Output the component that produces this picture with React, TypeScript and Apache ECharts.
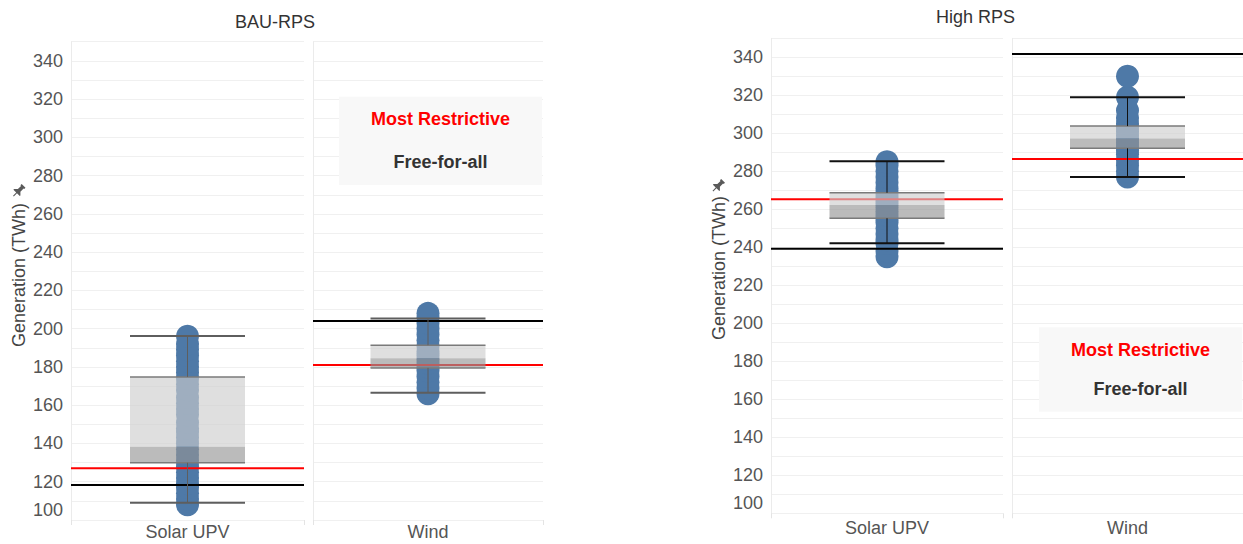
import React, { useEffect, useRef } from "react";
import * as echarts from "echarts";

const panelTitles = ["BAU-RPS", "High RPS"];
const categories = ["Solar UPV", "Wind"];
const legendLabels = ["Most Restrictive", "Free-for-all"];
const yAxisName = "Generation (TWh)";

// individual scenario results (dots)
const bauSolarDots = [108, 111, 114, 117, 119, 122, 125, 128, 131, 134, 137, 140, 143, 146, 148, 151, 155, 158, 161, 164, 168, 171, 174, 177, 180, 183, 186, 189, 192, 196];
const bauWindDots = [166, 169, 172, 175, 178, 180, 182, 184, 186, 188, 191, 194, 197, 200, 203, 206, 208];
const highSolarDots = [235, 238, 242, 244, 247, 250, 253, 255, 257, 259, 261, 263, 265, 267, 269, 271, 274, 277, 280, 283, 285];
const highWindDots = [277, 280, 283, 286, 289, 291, 293, 295, 297, 299, 301, 303, 305, 308, 312, 319, 330];

// box stats: [lower whisker, q1, median, q3, upper whisker]
const bauSolarBox = [109, 129.9, 138.3, 174.8, 196.2];
const bauWindBox = [166.5, 179.5, 184.6, 191.4, 205.3];
const highSolarBox = [242.1, 255.3, 262.3, 268.7, 285.3];
const highWindBox = [277, 292.1, 297.2, 303.8, 319];

// reference lines
const mostRestrictive = [127, 181, 265.3, 286.5];
const freeForAll = [118.3, 204, 239.3, 341.7];

const yMin = 100;
const yMax = 350;
const yStep = 10;
const yLabelStep = 20;

const FONT = "'Liberation Sans', Arial, sans-serif";

const panes = [
  { dots: bauSolarDots, box: bauSolarBox, cat: 0, panel: 0 },
  { dots: bauWindDots, box: bauWindBox, cat: 1, panel: 0 },
  { dots: highSolarDots, box: highSolarBox, cat: 0, panel: 1 },
  { dots: highWindDots, box: highWindBox, cat: 1, panel: 1 },
];

const gridLayout = [
  { left: 71, top: 41.7, width: 233, height: 478.3 },
  { left: 313, top: 41.7, width: 230, height: 478.3 },
  { left: 771, top: 38.3, width: 232, height: 475 },
  { left: 1012, top: 38.3, width: 231, height: 475 },
];

const whiskerColors = ["#5e5e5e", "#5e5e5e", "#111111", "#111111"];

function buildOption() {
  const grid = gridLayout.map((g) => ({ ...g, containLabel: false }));
  const xAxis = panes.map((p, i) => ({
    type: "category",
    gridIndex: i,
    data: [categories[p.cat]],
    boundaryGap: true,
    axisLine: { show: false },
    axisTick: { show: true, length: 5, lineStyle: { color: "#e4e4e4" } },
    axisLabel: {
      color: "#555",
      fontSize: 18,
      fontFamily: FONT,
      margin: p.panel === 0 ? 3 : 6,
    },
  }));
  const yAxis = panes.map((p, i) => ({
    type: "value",
    gridIndex: i,
    min: yMin,
    max: yMax,
    interval: yStep,
    axisLine: { show: true, lineStyle: { color: "#ebebeb" } },
    axisTick: { show: false },
    splitLine: { show: true, lineStyle: { color: "#f0f0f0", width: 1 } },
    axisLabel: {
      show: p.cat === 0,
      color: "#555",
      fontSize: 18,
      fontFamily: FONT,
      margin: 8,
      formatter: (v: number) => {
        if (v % yLabelStep !== 0 || v >= yMax) return "";
        if (v === yMin) return "{low|" + v + "}";
        return String(v);
      },
      rich: {
        low: { fontSize: 18, fontFamily: FONT, color: "#555", padding: [0, 0, 21, 0] },
      },
    },
  }));

  const series: any[] = [];
  panes.forEach((p, i) => {
    series.push({
      type: "scatter",
      xAxisIndex: i,
      yAxisIndex: i,
      symbol: "circle",
      symbolSize: 23,
      itemStyle: { color: "#4e79a7", opacity: 1 },
      z: 2,
      silent: true,
      data: p.dots.map((v) => [0, v]),
    });
    series.push({
      type: "custom",
      xAxisIndex: i,
      yAxisIndex: i,
      z: 3,
      silent: true,
      data: [[0, mostRestrictive[i], freeForAll[i]]],
      encode: { x: 0, y: [1, 2] },
      renderItem: (params: any, api: any) => {
        const pr = api.coord([api.value(0), api.value(1)]);
        const pb = api.coord([api.value(0), api.value(2)]);
        const bw = api.size([1, 0])[0];
        const x0 = pr[0] - bw / 2;
        const x1 = pr[0] + bw / 2;
        return {
          type: "group",
          children: [
            { type: "line", shape: { x1: x0, y1: pr[1], x2: x1, y2: pr[1] }, style: { stroke: "#ff0000", lineWidth: 2 } },
            { type: "line", shape: { x1: x0, y1: pb[1], x2: x1, y2: pb[1] }, style: { stroke: "#000000", lineWidth: 2 } },
          ],
        };
      },
    });
    series.push({
      type: "custom",
      xAxisIndex: i,
      yAxisIndex: i,
      z: 4,
      silent: true,
      data: [[0, ...p.box]],
      encode: { x: 0, y: [1, 2, 3, 4, 5] },
      renderItem: (params: any, api: any) => {
        const c = api.value(0);
        const pLw = api.coord([c, api.value(1)]);
        const pQ1 = api.coord([c, api.value(2)]);
        const pMed = api.coord([c, api.value(3)]);
        const pQ3 = api.coord([c, api.value(4)]);
        const pUw = api.coord([c, api.value(5)]);
        const cx = pLw[0];
        const hw = 57.5;
        const wc = whiskerColors[i];
        return {
          type: "group",
          children: [
            { type: "rect", shape: { x: cx - hw, y: pQ3[1], width: hw * 2, height: pMed[1] - pQ3[1] }, style: { fill: "rgba(205,205,205,0.64)" } },
            { type: "rect", shape: { x: cx - hw, y: pMed[1], width: hw * 2, height: pQ1[1] - pMed[1] }, style: { fill: "rgba(148,148,148,0.64)" } },
            { type: "line", shape: { x1: cx - hw, y1: pQ3[1], x2: cx + hw, y2: pQ3[1] }, style: { stroke: "#7a7a7a", lineWidth: 1.5 } },
            { type: "line", shape: { x1: cx - hw, y1: pQ1[1], x2: cx + hw, y2: pQ1[1] }, style: { stroke: "#7a7a7a", lineWidth: 1.5 } },
            { type: "line", shape: { x1: cx, y1: pUw[1], x2: cx, y2: pQ3[1] }, style: { stroke: wc, lineWidth: 1 } },
            { type: "line", shape: { x1: cx, y1: pQ1[1], x2: cx, y2: pLw[1] }, style: { stroke: wc, lineWidth: 1 } },
            { type: "line", shape: { x1: cx - hw, y1: pUw[1], x2: cx + hw, y2: pUw[1] }, style: { stroke: wc, lineWidth: 2 } },
            { type: "line", shape: { x1: cx - hw, y1: pLw[1], x2: cx + hw, y2: pLw[1] }, style: { stroke: wc, lineWidth: 2 } },
          ],
        };
      },
    });
  });

  const pinPath = "M5 0 H11 V2 H10 V7 L13 10 V11 H8.6 V16 H7.4 V11 H3 V10 L6 7 V2 H5 Z";
  try {
    echarts.graphic.registerShape("pin", (echarts.graphic as any).extendPath(pinPath, {}));
  } catch (e) {}

  const titleText = (text: string, x: number, y: number) => ({
    type: "text",
    x,
    y,
    z: 100,
    style: { text, fill: "#333", font: "18px " + FONT, textAlign: "center", textVerticalAlign: "middle" },
  });
  const axisTitle = (x: number, y: number) => ({
    type: "text",
    x,
    y,
    z: 100,
    rotation: Math.PI / 2,
    style: { text: yAxisName, fill: "#444", font: "18px " + FONT, textAlign: "center", textVerticalAlign: "middle" },
  });
  const pin = (x: number, y: number) => ({
    type: "pin",
    x,
    y,
    z: 100,
    originX: 8,
    originY: 8,
    scaleX: 0.9,
    scaleY: 0.9,
    rotation: -Math.PI / 4,
    style: { fill: "#5a5a5a" },
  });
  const legendBox = (x: number, y: number, w: number, h: number, y1: number, y2: number) => [
    { type: "rect", z: 100, shape: { x, y, width: w, height: h }, style: { fill: "#f8f8f8" } },
    {
      type: "text",
      z: 101,
      x: x + w / 2,
      y: y1,
      style: { text: legendLabels[0], fill: "#ff0000", font: "bold 18px " + FONT, textAlign: "center", textVerticalAlign: "middle" },
    },
    {
      type: "text",
      z: 101,
      x: x + w / 2,
      y: y2,
      style: { text: legendLabels[1], fill: "#333", font: "bold 18px " + FONT, textAlign: "center", textVerticalAlign: "middle" },
    },
  ];

  const graphic = [
    titleText(panelTitles[0], 275, 21.5),
    titleText(panelTitles[1], 975.5, 17),
    axisTitle(19, 275),
    axisTitle(719, 268),
    pin(10.5, 183),
    pin(710, 178),
    ...legendBox(339, 96.7, 203, 88.3, 119, 162),
    ...legendBox(1039, 327.3, 203, 84.4, 350, 388.5),
  ];

  return {
    animation: false,
    backgroundColor: "#ffffff",
    grid,
    xAxis,
    yAxis,
    series,
    graphic,
  };
}

export default function App() {
  const ref = useRef<HTMLDivElement>(null);
  useEffect(() => {
    if (!ref.current) return;
    const chart = echarts.init(ref.current, undefined, { renderer: "svg" });
    chart.setOption(buildOption() as any);
    return () => chart.dispose();
  }, []);
  return (
    <div
      ref={ref}
      style={{ position: "fixed", left: 0, top: 0, width: 1243, height: 544, background: "#fff" }}
    />
  );
}
